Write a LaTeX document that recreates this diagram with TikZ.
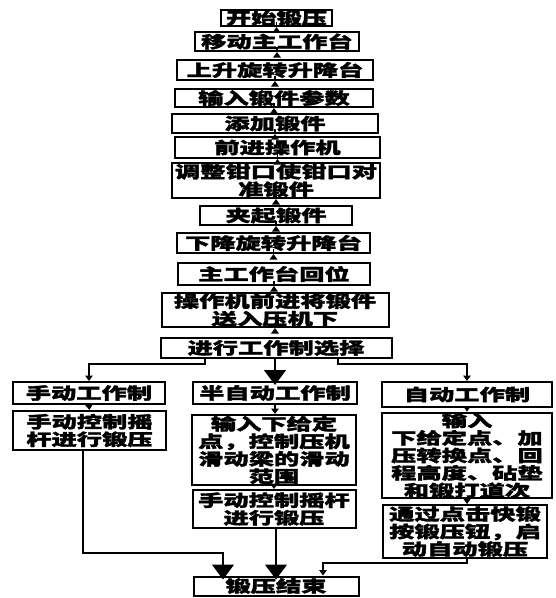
\documentclass[tikz,border=0pt]{standalone}
\usepackage{fontspec}
\newfontfamily\cjk{Noto Sans CJK SC}[FakeStretch=1.55,FakeBold=2]
\usetikzlibrary{arrows.meta,calc}
\begin{document}
\begin{tikzpicture}[x=1pt,y=-1pt,
  box/.style={draw,line width=2pt,inner sep=0pt,align=center,
    font=\cjk\bfseries\fontsize{16.3}{17.5}\selectfont},
  arr/.style={line width=1.5pt,-{Triangle[length=5.5pt,width=7.5pt]}},
  big/.style={line width=1.5pt,-{Triangle[length=15pt,width=22pt]},shorten >=-4pt},
  link/.style={line width=1.5pt}]
\useasboundingbox (0,0) rectangle (556,598);
% trunk
\node[box,minimum width=111,minimum height=16] (b1) at (276.5,18) {开始锻压};
\node[box,minimum width=164,minimum height=19] (b2) at (277,41.5) {移动主工作台};
\node[box,minimum width=196,minimum height=20] (b3) at (275,70) {上升旋转升降台};
\node[box,minimum width=198,minimum height=18] (b4) at (274,98) {输入锻件参数};
\node[box,minimum width=206,minimum height=19] (b5) at (275,123.5) {添加锻件};
\node[box,minimum width=205,minimum height=21] (b6) at (277.5,147.5) {前进操作机};
\node[box,minimum width=208,minimum height=35] (b7) at (276,180.5) {调整钳口使钳口对\\准锻件};
\node[box,minimum width=152,minimum height=19] (b8) at (276,215.5) {夹起锻件};
\node[box,minimum width=193,minimum height=20] (b9) at (273.5,243) {下降旋转升降台};
\node[box,minimum width=192,minimum height=22] (b10) at (274,274) {主工作台回位};
\node[box,minimum width=227,minimum height=34] (b11) at (275,310) {操作机前进将锻件\\送入压机下};
\node[box,minimum width=231,minimum height=20] (b12) at (276,348) {进行工作制选择};
% branches
\node[box,minimum width=152,minimum height=22] (L1) at (89,393) {手动工作制};
\node[box,minimum width=153,minimum height=39] (L2) at (89.5,430.5) {手动控制摇\\杆进行锻压};
\node[box,minimum width=164,minimum height=22] (M1) at (275,393) {半自动工作制};
\node[box,minimum width=164,minimum height=70] (M2) at (274,450) {输入下给定\\点，控制压机\\滑动梁的滑动\\范围};
\node[box,minimum width=163,minimum height=38] (M3) at (274,509) {手动控制摇杆\\进行锻压};
\node[box,minimum width=170,minimum height=25] (R1) at (467,394.5) {自动工作制};
\node[box,minimum width=170,minimum height=85] (R2) at (467,455.5) {输入\\下给定点、加\\压转换点、回\\程高度、砧垫\\和锻打道次};
\node[box,minimum width=164,minimum height=53] (R3) at (465,531.5) {通过点击快锻\\按锻压钮，启\\动自动锻压};
\node[box,minimum width=165,minimum height=19] (E) at (276,586) {锻压结束};
% trunk arrows
\foreach \a/\b in {b1/b2,b2/b3,b3/b4,b4/b5,b5/b6,b6/b7,b7/b8,b8/b9,b9/b10,b10/b11,b11/b12}
  \draw[arr] ($(\a.south)$) -- ($(\a.south)$ |- \b.north);
% selection
\coordinate (jl) at (205,364);
\coordinate (jr) at (338,364);
\draw[arr] (jl |- b12.south) -- (jl) -| (L1.north);
\draw[arr] (jr |- b12.south) -- (jr) -| (R1.north);
\draw[big] (M1.north |- b12.south) -- (M1.north);
% within branches
\draw[arr] (L1.south) -- (L2.north);
\draw[arr] (M1.south) -- (M1.south |- M2.north);
\draw[arr] (M2.south) -- (M3.north);
\draw[arr] (R1.south) -- (R2.north);
\draw[arr] (R2.south) -- (R2.south |- R3.north);
% to end
\coordinate (el0) at (83,553);
\coordinate (el) at (223,553);
\coordinate (er0) at (467,563);
\coordinate (er) at (323,563);
\draw[big] (el0 |- L2.south) -- (el0) -- (el) -- (el |- E.north);
\draw[big] (E.north |- M3.south) -- (E.north);
\draw[arr] (er0 |- R3.south) -- (er0) -- (er) -- (er |- E.north);
\end{tikzpicture}
\end{document}
